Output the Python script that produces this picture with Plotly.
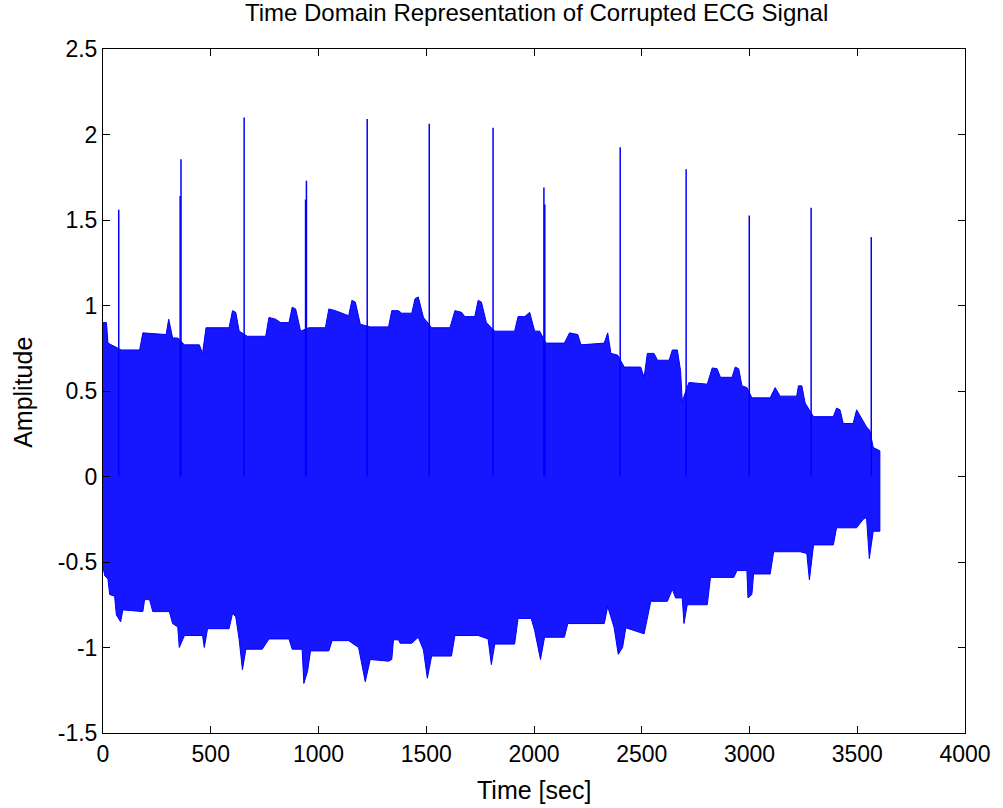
import plotly.graph_objects as go

# Upper envelope of the dense ECG trace (time in sec, amplitude)
upper_t = [0, 16, 23, 54, 85, 170, 185, 293, 305, 323, 347, 378, 447, 462, 478, 585,
           601, 616, 632, 670, 755, 770, 801, 824, 863, 878, 894, 917, 955, 1032, 1048,
           1078, 1140, 1155, 1171, 1194, 1240, 1325, 1340, 1371, 1386, 1433, 1448, 1463,
           1487, 1525, 1610, 1633, 1664, 1679, 1725, 1741, 1756, 1779, 1818, 1910, 1926,
           1957, 1980, 2003, 2026, 2056, 2141, 2165, 2203, 2218, 2326, 2342, 2357, 2388,
           2419, 2495, 2511, 2526, 2557, 2573, 2627, 2642, 2665, 2680, 2688, 2719, 2804,
           2827, 2850, 2865, 2919, 2934, 2950, 2965, 2988, 3011, 3096, 3119, 3142, 3219,
           3227, 3243, 3258, 3297, 3389, 3404, 3420, 3435, 3481, 3497, 3512, 3543, 3558,
           3574, 3605]
upper_v = [0.90, 0.90, 0.78, 0.76, 0.74, 0.74, 0.84, 0.83, 0.92, 0.81, 0.81, 0.77, 0.77,
           0.72, 0.87, 0.87, 0.97, 0.96, 0.85, 0.82, 0.82, 0.93, 0.92, 0.90, 0.90, 0.99,
           0.98, 0.85, 0.87, 0.87, 0.98, 0.97, 0.94, 1.03, 1.02, 0.89, 0.875, 0.875, 0.97,
           0.97, 0.955, 0.955, 1.04, 1.05, 0.93, 0.87, 0.87, 0.97, 0.96, 0.935, 0.935,
           1.03, 1.02, 0.90, 0.85, 0.85, 0.935, 0.935, 0.96, 0.85, 0.85, 0.78, 0.78, 0.84,
           0.83, 0.77, 0.78, 0.84, 0.72, 0.71, 0.64, 0.64, 0.58, 0.72, 0.72, 0.68, 0.68,
           0.74, 0.74, 0.62, 0.44, 0.55, 0.54, 0.635, 0.63, 0.58, 0.58, 0.64, 0.63, 0.53,
           0.52, 0.46, 0.46, 0.52, 0.47, 0.47, 0.53, 0.53, 0.43, 0.35, 0.35, 0.40, 0.39,
           0.31, 0.31, 0.39, 0.36, 0.29, 0.27, 0.17, 0.15]

# Lower envelope
lower_t = [0, 8, 23, 31, 54, 62, 82, 92, 185, 193, 216, 231, 308, 323, 347, 354, 378,
           462, 470, 485, 585, 601, 616, 632, 647, 663, 739, 770, 863, 878, 924, 932,
           949, 963, 1048, 1063, 1140, 1186, 1217, 1240, 1325, 1340, 1348, 1371, 1379,
           1433, 1463, 1487, 1505, 1525, 1617, 1633, 1741, 1787, 1802, 1818, 1910, 1926,
           1987, 2003, 2030, 2049, 2141, 2157, 2326, 2342, 2372, 2391, 2411, 2426, 2511,
           2542, 2619, 2642, 2657, 2688, 2696, 2711, 2804, 2819, 2927, 2942, 2988, 2993,
           3011, 3019, 3096, 3112, 3235, 3266, 3278, 3297, 3389, 3404, 3497, 3528, 3543,
           3556, 3574, 3605]
lower_v = [-0.53, -0.58, -0.60, -0.69, -0.70, -0.81, -0.85, -0.78, -0.79, -0.72, -0.72,
           -0.79, -0.79, -0.86, -0.88, -1.00, -0.93, -0.93, -1.00, -0.89, -0.89, -0.80,
           -0.82, -0.955, -1.13, -1.01, -1.01, -0.95, -0.95, -1.01, -1.01, -1.21, -1.14,
           -1.02, -1.02, -0.96, -0.96, -1.00, -1.20, -1.07, -1.08, -1.07, -0.955, -0.955,
           -0.975, -0.975, -0.94, -1.015, -1.18, -1.05, -1.05, -0.93, -0.93, -0.95, -1.10,
           -0.98, -0.98, -0.83, -0.83, -0.90, -1.07, -0.94, -0.94, -0.86, -0.86, -0.76,
           -0.885, -1.04, -1.00, -0.885, -0.92, -0.73, -0.73, -0.66, -0.71, -0.71, -0.86,
           -0.75, -0.75, -0.59, -0.59, -0.55, -0.55, -0.71, -0.69, -0.57, -0.57, -0.44,
           -0.44, -0.45, -0.605, -0.40, -0.40, -0.30, -0.30, -0.25, -0.24, -0.48, -0.32,
           -0.32]

# R-peak spikes that stick out above the band
spike_t = [73, 358, 362, 655, 940, 944, 1226, 1514, 1810, 2046, 2050, 2400, 2706, 2999,
           3286, 3565]
spike_peak = [1.56, 1.64, 1.855, 2.10, 1.62, 1.73, 2.09, 2.063, 2.04, 1.69, 1.59, 1.925,
              1.797, 1.527, 1.572, 1.40]

x_ticks = [0, 500, 1000, 1500, 2000, 2500, 3000, 3500, 4000]
y_ticks = [-1.5, -1, -0.5, 0, 0.5, 1, 1.5, 2, 2.5]
y_tick_labels = ["-1.5", "-1", "-0.5", "0", "0.5", "1", "1.5", "2", "2.5"]

blue = "rgb(0,0,255)"

fig = go.Figure()

# band between the envelopes
fig.add_trace(go.Scatter(x=upper_t + lower_t[::-1],
                         y=upper_v + lower_v[::-1],
                         mode="lines",
                         fill="toself",
                         fillcolor="rgb(22,22,255)",
                         line=dict(color=blue, width=1),
                         hoverinfo="skip"))

# spikes
sx, sy = [], []
for t, p in zip(spike_t, spike_peak):
    sx += [t, t, None]
    sy += [0, p, None]
fig.add_trace(go.Scatter(x=sx, y=sy, mode="lines",
                         line=dict(color=blue, width=1.5)))

axis_style = dict(showline=True, linecolor="black", linewidth=1, mirror="ticks",
                  ticks="inside", ticklen=7, tickcolor="black", showgrid=False,
                  zeroline=False, tickfont=dict(size=23, color="black"))

fig.update_layout(
    width=1003, height=808,
    paper_bgcolor="white", plot_bgcolor="white",
    showlegend=False,
    margin=dict(l=103, r=29, t=49, b=75),
    font=dict(family="Liberation Sans, Arial", color="black"),
    title=dict(text="Time Domain Representation of Corrupted ECG Signal",
               x=0.535, xanchor="center", yref="container", y=0.985, yanchor="middle",
               font=dict(size=24, color="black")),
    xaxis=dict(range=[0, 4000], tickvals=x_ticks, **axis_style),
    yaxis=dict(range=[-1.5, 2.5], tickvals=y_ticks, ticktext=y_tick_labels,
               **axis_style),
    annotations=[
        dict(text="Time [sec]", xref="paper", yref="paper", x=0.5, y=-0.083,
             xanchor="center", yanchor="middle", showarrow=False,
             font=dict(size=25, color="black")),
        dict(text="Amplitude", xref="paper", yref="paper", x=-0.093, y=0.4985,
             xanchor="center", yanchor="middle", textangle=-90, showarrow=False,
             font=dict(size=25, color="black")),
    ],
)

fig.write_html("out.html", config={"displayModeBar": False},
               post_script="document.body.style.margin='0';document.body.style.overflow='hidden';")
